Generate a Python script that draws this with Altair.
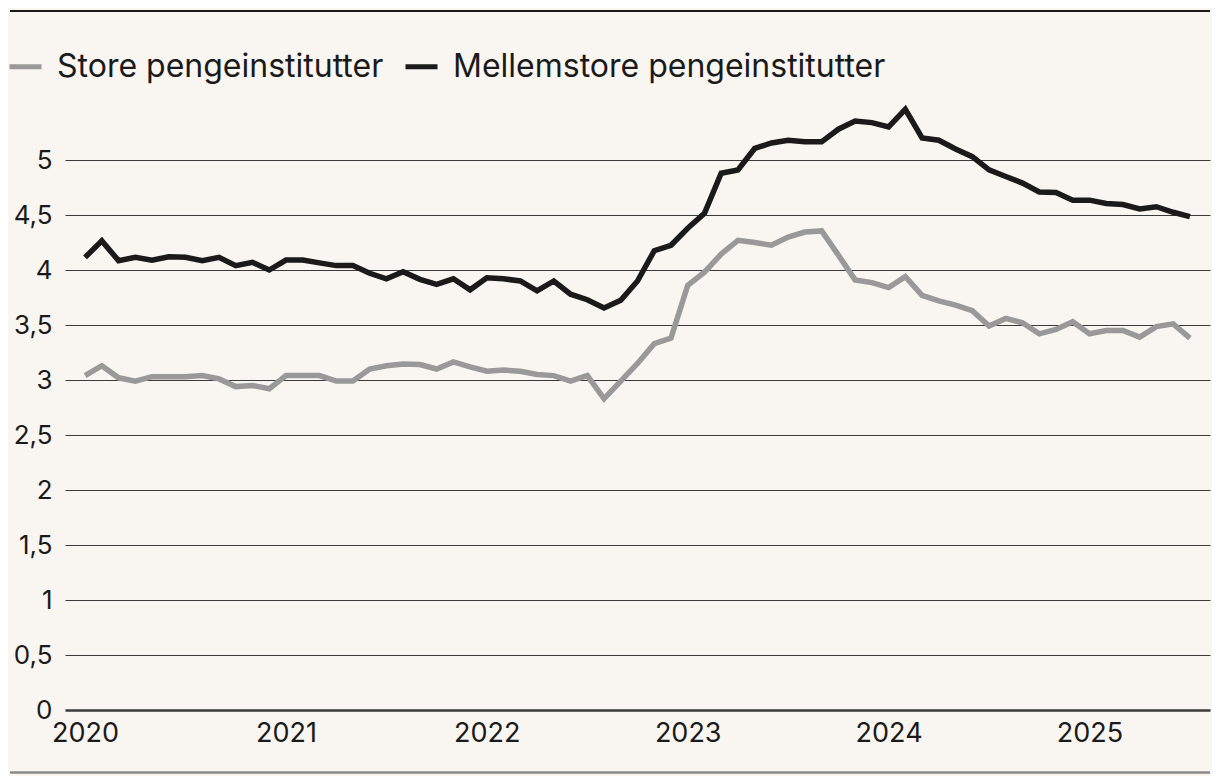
import altair as alt
import pandas as pd

series_names = ["Store pengeinstitutter", "Mellemstore pengeinstitutter"]
start_year = 2020
n_months = 67  # Jan 2020 - Jul 2025

store = [
    3.04, 3.13, 3.02, 2.99, 3.03, 3.03, 3.03, 3.04, 3.01, 2.94, 2.95, 2.92,
    3.04, 3.04, 3.04, 2.99, 2.99, 3.10, 3.13, 3.145, 3.14, 3.10, 3.165, 3.12,
    3.08, 3.09, 3.08, 3.05, 3.04, 2.99, 3.04, 2.83, 2.99, 3.15, 3.33, 3.38,
    3.86, 3.98, 4.145, 4.27, 4.25, 4.225, 4.30, 4.345, 4.355, 4.135, 3.91, 3.885,
    3.84, 3.94, 3.77, 3.72, 3.68, 3.63, 3.49, 3.56, 3.52, 3.42, 3.46, 3.53,
    3.42, 3.45, 3.45, 3.39, 3.485, 3.51, 3.38,
]
mellemstore = [
    4.115, 4.265, 4.085, 4.115, 4.09, 4.12, 4.115, 4.085, 4.115, 4.04, 4.07, 4.00,
    4.09, 4.09, 4.065, 4.04, 4.04, 3.97, 3.92, 3.985, 3.915, 3.87, 3.92, 3.82,
    3.93, 3.92, 3.90, 3.81, 3.90, 3.78, 3.73, 3.655, 3.725, 3.90, 4.175, 4.225,
    4.38, 4.515, 4.88, 4.91, 5.105, 5.155, 5.18, 5.165, 5.165, 5.28, 5.355, 5.34,
    5.30, 5.46, 5.20, 5.18, 5.10, 5.03, 4.91, 4.85, 4.79, 4.71, 4.705, 4.635,
    4.635, 4.605, 4.595, 4.555, 4.575, 4.525, 4.485,
]
y_ticks = [0, 0.5, 1, 1.5, 2, 2.5, 3, 3.5, 4, 4.5, 5]
x_ticks = [2020, 2021, 2022, 2023, 2024, 2025]
colors = ["#999999", "#1a1a1a"]

rows = []
for name, vals in zip(series_names, [store, mellemstore]):
    for m, v in enumerate(vals):
        rows.append({"t": start_year + m / 12, "v": v, "serie": name})
df = pd.DataFrame(rows)

FONT = "Inter"
W, H = 1145, 616

lines = alt.Chart(df).mark_line(strokeWidth=5.5, strokeJoin="miter").encode(
    x=alt.X("t:Q", scale=alt.Scale(domain=[2019.9, 2025.6], nice=False, zero=False),
            axis=alt.Axis(values=x_ticks, format="d", grid=False, ticks=False, domain=False,
                          labelFontSize=27, labelPadding=10, labelColor="#1a1a1a",
                          labelFont=FONT, title=None)),
    y=alt.Y("v:Q", scale=alt.Scale(domain=[0, 5.6], nice=False),
            axis=alt.Axis(values=y_ticks, grid=True, ticks=False, domain=False,
                          labelExpr="replace(toString(datum.value), '.', ',')",
                          labelFontSize=26, labelPadding=13, labelColor="#1a1a1a",
                          labelFont=FONT, title=None,
                          gridColor="#3a3a3a",
                          gridWidth={"condition": {"test": "datum.value === 0", "value": 2.5}, "value": 1})),
    color=alt.Color("serie:N", scale=alt.Scale(domain=series_names, range=colors),
                    legend=alt.Legend(orient="none", legendX=-58, legendY=-46, direction="horizontal",
                                      title=None, symbolType="stroke", symbolStrokeWidth=5,
                                      symbolSize=1024, labelFontSize=32, labelFont=FONT,
                                      labelColor="#1a1a1a", labelOffset=13, columnPadding=11,
                                      labelLimit=700)),
    detail="serie:N",
)

one = pd.DataFrame({"k": [0]})
top_rule = alt.Chart(one).mark_rule(color="#1a1a1a", strokeWidth=2).encode(
    x=alt.value(-55), x2=alt.value(W), y=alt.value(-83))
bottom_rule = alt.Chart(one).mark_rule(color="#8a8a8a", strokeWidth=2.5).encode(
    x=alt.value(-55), x2=alt.value(W), y=alt.value(678.5))

chart = alt.layer(lines, top_rule, bottom_rule).properties(
    width=W, height=H,
    autosize=alt.AutoSizeParams(type="none"),
    padding={"left": 57, "top": 86, "right": 2, "bottom": 66},
    background="#f9f6f1",
).configure_view(stroke=None)

chart.save("out.html", embed_options={"renderer": "svg", "actions": False})
